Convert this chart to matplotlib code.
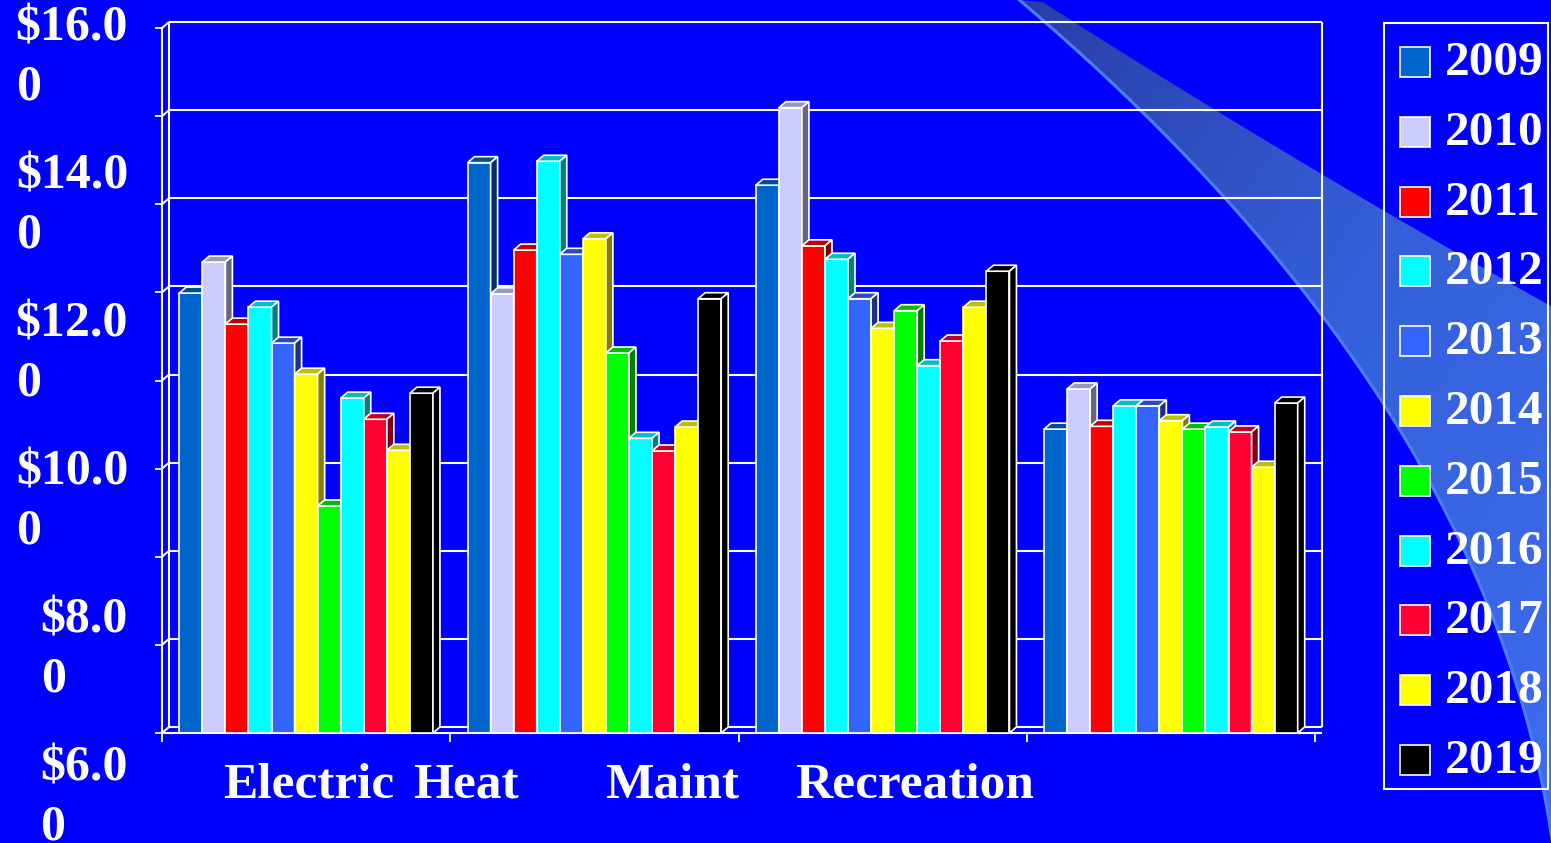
import numpy as np
import matplotlib.pyplot as plt
from matplotlib.patches import Polygon, Rectangle
from matplotlib.colors import LinearSegmentedColormap, to_rgb

# Costs per year for each category
categories = ['Electric', 'Heat', 'Maint', 'Recreation']
years = ['2009', '2010', '2011', '2012', '2013', '2014',
         '2015', '2016', '2017', '2018', '2019']
colors = ['#0066CC', '#CCCCFF', '#FF0000', '#00FFFF', '#3366FF', '#FFFF00',
          '#00FF00', '#00FFFF', '#FF0033', '#FFFF00', '#000000']

electric = [12.24, 12.68, 11.80, 12.04, 11.53, 11.09, 9.22, 10.75, 10.45, 10.01, 10.82]
heat = [14.09, 12.23, 12.85, 14.11, 12.79, 13.01, 11.39, 10.18, 10.00, 10.34, 12.16]
maint = [13.77, 14.87, 12.91, 12.72, 12.16, 11.74, 11.99, 11.21, 11.56, 12.04, 12.55]
recreation = [10.31, 10.88, 10.35, 10.64, 10.64, 10.43, 10.31, 10.34, 10.27, 9.77, 10.68]

y_labels = ['$16.00', '$14.00', '$12.00', '$10.00', '$8.00', '$6.00']

W, H = 1551, 843
BG = '#0000FF'
FONT = 'Liberation Serif'

fig = plt.figure(figsize=(W / 100, H / 100), dpi=100, facecolor=BG)

# full-figure axes in pixel units for the backdrop, legend and labels
bg = fig.add_axes([0, 0, 1, 1], zorder=0)
bg.set_xlim(0, W)
bg.set_ylim(H, 0)
bg.axis('off')

# translucent swoosh in the top right corner, left edge smoothed with a cubic
guide_pts = np.array([(1017, 0), (1143, 110), (1230, 200), (1310, 300), (1383, 410),
                      (1440, 507), (1487, 600), (1527, 700), (1550, 843)])
ys = np.linspace(0, H, 200)
left_edge = np.column_stack([np.polyval(np.polyfit(guide_pts[:, 1], guide_pts[:, 0], 3), ys), ys])
right_pts = np.array([(1043, 0), (1067, 20), (1150, 70), (1220, 113), (1320, 173),
                      (1400, 220), (1480, 265), (1551, 307)])
right_x = np.linspace(1043, W, 100)
right_edge = np.column_stack([right_x, np.polyval(np.polyfit(right_pts[:, 0], right_pts[:, 1], 2), right_x)])
band = np.vstack([left_edge, [(W, H)], right_edge[::-1]])
yy, xx = np.mgrid[0:H, 1000:W]
t = ((xx - 1000) / 551 + yy / H) / 2
cmap = LinearSegmentedColormap.from_list('swoosh', ['#283CA6', '#3560DA', '#3E6CF0'])
im = bg.imshow(t, cmap=cmap, extent=(1000, W, H, 0), origin='upper', aspect='auto', zorder=0.5)
im.set_clip_path(Polygon(band, closed=True, transform=bg.transData))
bg.plot(left_edge[:, 0], left_edge[:, 1], color='#4A80FF', lw=2.2, zorder=0.6)

# main plot area
ax = fig.add_axes([162 / W, (H - 733) / H, 1153 / W, 705 / H], zorder=1)
ax.set_xlim(-0.5, 3.5)
ax.set_ylim(6, 16)
ax.patch.set_visible(False)
for side in ['top', 'right']:
    ax.spines[side].set_visible(False)
for side in ['left', 'bottom']:
    ax.spines[side].set_color('white')
    ax.spines[side].set_linewidth(1.5)

dx, dy = 7 / 288.25, 6 / 70.5
yticks = np.linspace(6, 16, 9)
ax.set_yticks(yticks)
ax.set_yticklabels([])
ax.set_xticks([-0.5, 0.5, 1.5, 2.5, 3.5])
ax.set_xticklabels([])
ax.tick_params(axis='y', length=5, width=1.3, color='white', direction='out')
ax.tick_params(axis='x', length=6.5, width=1.3, color='white', direction='out')

# back wall, gridlines and left side wall
lk = dict(color='white', lw=1.5, clip_on=False, zorder=1, solid_capstyle='butt')
for tv in yticks:
    ax.plot([-0.5 + dx, 3.5 + dx], [tv + dy, tv + dy], **lk)
    ax.plot([-0.5, -0.5 + dx], [tv, tv + dy], **lk)
ax.plot([-0.5 + dx] * 2, [6 + dy, 16 + dy], **lk)
ax.plot([3.5 + dx] * 2, [6 + dy, 16 + dy], **lk)
ax.plot([3.5, 3.5 + dx], [6, 6], **lk)

values = np.array([electric, heat, maint, recreation])
w = 0.08


def shade(c, f):
    r, g, b = to_rgb(c)
    return (r * f, g * f, b * f)


for s, (year, c) in enumerate(zip(years, colors)):
    xs = np.arange(len(categories)) - 0.44 + s * w
    vals = values[:, s]
    z = 2 + s
    ax.bar(xs, vals - 6, width=w, bottom=6, align='edge', color=c,
           edgecolor='white', linewidth=1.2, zorder=z)
    for x0, v in zip(xs, vals):
        top = Polygon([(x0, v), (x0 + dx, v + dy), (x0 + w + dx, v + dy), (x0 + w, v)],
                      closed=True, facecolor=shade(c, 0.75), edgecolor='white',
                      linewidth=1.2, zorder=z, clip_on=False)
        rside = Polygon([(x0 + w, 6), (x0 + w + dx, 6 + dy), (x0 + w + dx, v + dy), (x0 + w, v)],
                        closed=True, facecolor=shade(c, 0.5), edgecolor='white',
                        linewidth=1.2, zorder=z, clip_on=False)
        ax.add_patch(top)
        ax.add_patch(rside)

# value axis labels, wrapped onto two lines
tk = dict(color='white', fontsize=36, fontweight='bold', family=FONT)
for i, lab in enumerate(y_labels):
    bg.text(128, 58 + 148 * i, lab[:-1] + '\n' + lab[-1], ha='right', va='center',
            ma='left', linespacing=1.35, **tk)

# category labels
for x, lab in zip([309, 466, 672, 914], categories):
    bg.text(x, 785, lab, ha='center', va='center', **dict(tk, fontsize=37))

# legend
bg.add_patch(Rectangle((1384, 23), 164, 766, fill=False, edgecolor='white', lw=1.5, zorder=3))
for i, (year, c) in enumerate(zip(years, colors)):
    cy = 62 + 69.8 * i
    bg.add_patch(Rectangle((1400, cy - 15), 30, 30, facecolor=c, edgecolor='white', lw=1.2, zorder=3))
    bg.text(1445, cy + 1, year, ha='left', va='center', zorder=3, **dict(tk, fontsize=35.5))

fig.savefig('out.png', dpi=100, facecolor=BG)
